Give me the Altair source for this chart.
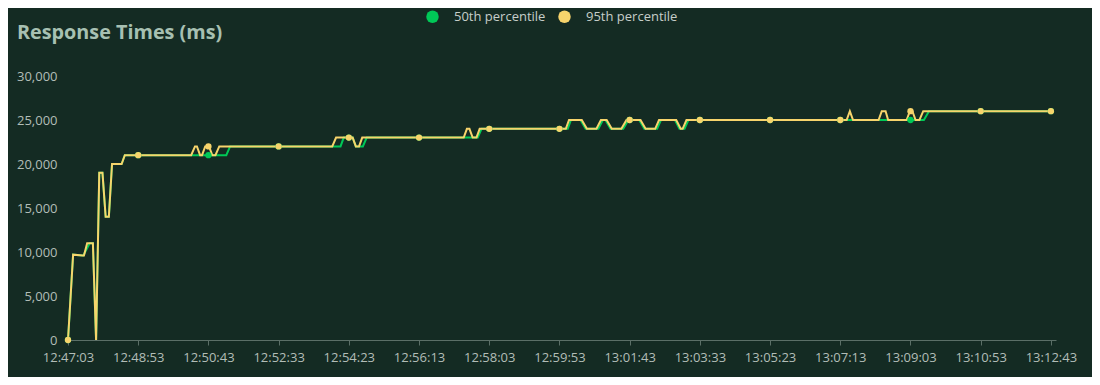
import altair as alt
import pandas as pd
from datetime import datetime, timedelta

# ---------------- data ----------------
BASE = datetime(2024, 1, 1, 12, 47, 3)

series_names = ["50th percentile", "95th percentile"]
series_colors = ["#00c957", "#f7d46c"]

# seconds after 12:47:03 and response time (ms)
p50_t = [0, 8, 23, 24, 34, 39, 44, 49, 54, 59, 64, 69, 84, 89,
         248, 254,
         427, 432, 446, 451, 462, 468,
         642, 648,
         783, 788, 803, 811, 831, 838, 842, 850, 870, 878, 895, 903, 923, 929, 951, 958, 966, 972,
         1341, 1349, 1540]
p50_v = [0, 9700, 9600, 9600, 11000, 11000, 0, 19000, 19000, 14000, 14000, 20000, 20000, 21000,
         21000, 22000,
         22000, 23000, 23000, 22000, 22000, 23000,
         23000, 24000,
         24000, 25000, 25000, 24000, 24000, 25000, 25000, 24000, 24000, 25000, 25000, 24000, 24000, 25000, 25000, 24000, 24000, 25000,
         25000, 26000, 26000]

p95_t = [0, 8, 23, 25, 30, 39, 44, 49, 54, 59, 64, 69, 84, 89,
         193, 199, 202, 207, 210, 215, 221, 226, 231, 237,
         414, 420, 446, 451, 456, 461,
         620, 625, 629, 634, 640, 645,
         780, 785, 805, 813, 828, 835, 844, 852, 867, 875, 897, 905, 920, 926, 953, 960, 963, 969,
         1220, 1225, 1230, 1270, 1275, 1281, 1285, 1314, 1319, 1323, 1328, 1334, 1340, 1540]
p95_v = [0, 9700, 9600, 9600, 11000, 11000, 0, 19000, 19000, 14000, 14000, 20000, 20000, 21000,
         21000, 22000, 22000, 21000, 21000, 22000, 22000, 21000, 21000, 22000,
         22000, 23000, 23000, 22000, 22000, 23000,
         23000, 24000, 24000, 23000, 23000, 24000,
         24000, 25000, 25000, 24000, 24000, 25000, 25000, 24000, 24000, 25000, 25000, 24000, 24000, 25000, 25000, 24000, 24000, 25000,
         25000, 26000, 25000, 25000, 26000, 26000, 25000, 25000, 26000, 26000, 25000, 25000, 26000, 26000]

tick_labels = ["12:47:03", "12:48:53", "12:50:43", "12:52:33", "12:54:23",
               "12:56:13", "12:58:03", "12:59:53", "13:01:43", "13:03:33",
               "13:05:23", "13:07:13", "13:09:03", "13:10:53", "13:12:43"]
marker_p50 = [0, 21000, 21000, 22000, 23000, 23000, 24000, 24000, 25000, 25000, 25000, 25000, 25000, 26000, 26000]
marker_p95 = [0, 21000, 22000, 22000, 23000, 23000, 24000, 24000, 25000, 25000, 25000, 25000, 26000, 26000, 26000]

y_ticks = [0, 5000, 10000, 15000, 20000, 25000, 30000]
chart_title = "Response Times (ms)"
axis_end = "13:12:51"

# ---------------- build tables ----------------
def iso(sec):
    return (BASE + timedelta(seconds=sec)).strftime("%Y-%m-%dT%H:%M:%S")

def hms_to_iso(s):
    h, m, sec = map(int, s.split(":"))
    return BASE.replace(hour=h, minute=m, second=sec).strftime("%Y-%m-%dT%H:%M:%S")

def hms_dt(s):
    h, m, sec = map(int, s.split(":"))
    return alt.DateTime(year=2024, month=1, date=1, hours=h, minutes=m, seconds=sec)

rows = []
for t, v in zip(p50_t, p50_v):
    rows.append({"series": series_names[0], "time": iso(t), "value": v, "k": len(rows)})
for t, v in zip(p95_t, p95_v):
    rows.append({"series": series_names[1], "time": iso(t), "value": v, "k": len(rows)})
line_df = pd.DataFrame(rows)

prow = []
for lab, v in zip(tick_labels, marker_p50):
    prow.append({"series": series_names[0], "time": hms_to_iso(lab), "value": v})
for lab, v in zip(tick_labels, marker_p95):
    prow.append({"series": series_names[1], "time": hms_to_iso(lab), "value": v})
pt_df = pd.DataFrame(prow)

BG = "#142b23"
AXIS_C = "#5b6f67"
LABEL_C = "#b2bdb7"
FONT = "Open Sans"

x_enc = alt.X(
    "time:T",
    title=None,
    scale=alt.Scale(domain=[hms_dt(tick_labels[0]), hms_dt(axis_end)], nice=False),
    axis=alt.Axis(
        values=[hms_dt(s) for s in tick_labels],
        format="%H:%M:%S",
        grid=False,
        domainColor=AXIS_C,
        tickColor=AXIS_C,
        tickSize=5,
        labelPadding=6,
        labelColor=LABEL_C,
        labelFont=FONT,
        labelFontSize=13,
        labelFlush=False,
        labelOverlap=False,
    ),
)
y_enc = alt.Y(
    "value:Q",
    title=None,
    scale=alt.Scale(domain=[0, 30000], nice=False),
    axis=alt.Axis(
        values=y_ticks,
        format=",.0f",
        grid=False,
        domain=False,
        ticks=False,
        tickSize=0,
        labelPadding=11,
        labelColor=LABEL_C,
        labelFont=FONT,
        labelFontSize=13,
    ),
)

color_scale = alt.Scale(domain=series_names, range=series_colors)

lines = alt.Chart(line_df).mark_line(strokeWidth=2, interpolate="linear").encode(
    x=x_enc,
    y=y_enc,
    color=alt.Color("series:N", scale=color_scale, legend=None),
    order=alt.Order("k:Q"),
)

points = alt.Chart(pt_df).mark_circle(size=40, opacity=1).encode(
    x=x_enc,
    y=y_enc,
    color=alt.Color(
        "series:N",
        scale=color_scale,
        legend=alt.Legend(
            title=None,
            orient="none",
            direction="horizontal",
            legendX=358,
            legendY=-66,
            padding=0,
            symbolType="circle",
            symbolSize=155,
            symbolStrokeWidth=0,
            symbolOpacity=1,
            labelOffset=15,
            columnPadding=12,
            labelColor="#c6cec9",
            labelFont=FONT,
            labelFontSize=13,
        ),
    ),
)

title_df = pd.DataFrame({"title": [chart_title]})
title = alt.Chart(title_df).mark_text(
    align="left", baseline="middle", font=FONT, fontSize=19.8, fontWeight="bold", color="#a7c0b2"
).encode(text="title:N", x=alt.value(-51), y=alt.value(-43))

chart = alt.layer(lines, points, title).resolve_legend(color="independent").properties(
    width=988,
    height=264,
    background=BG,
    padding={"left": 60, "top": 68, "right": 36, "bottom": 37},
    autosize=alt.AutoSizeParams(type="none"),
).configure_view(strokeWidth=0)

chart.save("out.html", embed_options={"renderer": "svg", "actions": False})
